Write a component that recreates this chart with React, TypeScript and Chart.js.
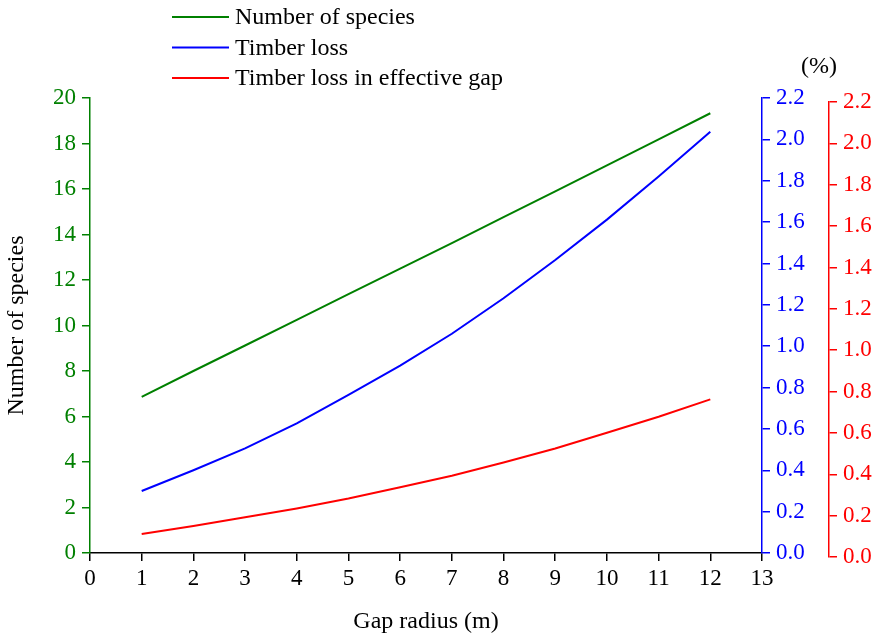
import React, { useEffect, useRef } from "react";
import { Chart, registerables } from "chart.js";

Chart.register(...registerables);

const gapRadius = [1, 2, 3, 4, 5, 6, 7, 8, 9, 10, 11, 12];
const numberOfSpecies = [6.86, 8.0, 9.12, 10.25, 11.38, 12.5, 13.62, 14.76, 15.9, 17.04, 18.18, 19.33];
const timberLoss = [0.3, 0.4, 0.506, 0.627, 0.764, 0.906, 1.06, 1.232, 1.417, 1.612, 1.82, 2.037];
const timberLossEffective = [0.111, 0.15, 0.192, 0.235, 0.283, 0.337, 0.393, 0.457, 0.525, 0.601, 0.678, 0.762];

const seriesLabels = ["Number of species", "Timber loss", "Timber loss in effective gap"];
const seriesColors = ["#008000", "#0000ff", "#ff0000"];

const FONT_FAMILY = "'Liberation Serif', 'Times New Roman', serif";
const TEXT_SIZE = 24;
const TICK_SIZE = 23;

const legendPlugin = {
  id: "customLegend",
  afterLayout(chart: any) {
    const s = chart.scales.y2;
    if (s) {
      s.top += 4;
      s.bottom += 4;
      s.configure();
    }
  },
  afterDraw(chart: any) {
    const ctx = chart.ctx;
    ctx.save();
    ctx.font = `${TEXT_SIZE}px ${FONT_FAMILY}`;
    ctx.textBaseline = "middle";
    ctx.textAlign = "left";
    chart.data.datasets.forEach((ds: any, i: number) => {
      const y = 17 + i * 30.5;
      ctx.strokeStyle = ds.borderColor;
      ctx.lineWidth = 2;
      ctx.beginPath();
      ctx.moveTo(172, y);
      ctx.lineTo(229, y);
      ctx.stroke();
      ctx.fillStyle = "#000";
      ctx.fillText(ds.label, 235, y + 1);
    });
    ctx.textAlign = "center";
    ctx.fillText("(%)", 819, 67);
    ctx.restore();
  },
};

export default function App() {
  const ref = useRef<HTMLCanvasElement | null>(null);

  useEffect(() => {
    if (!ref.current) return;
    const tickFont = { family: FONT_FAMILY, size: TICK_SIZE };
    const textFont = { family: FONT_FAMILY, size: TEXT_SIZE };
    const mk = (vals: number[]) => gapRadius.map((x, i) => ({ x, y: vals[i] }));
    const chart = new Chart(ref.current, {
      type: "line",
      data: {
        datasets: [
          {
            label: seriesLabels[0],
            data: mk(numberOfSpecies),
            borderColor: seriesColors[0],
            backgroundColor: seriesColors[0],
            borderWidth: 2,
            pointRadius: 0,
            yAxisID: "y",
          },
          {
            label: seriesLabels[1],
            data: mk(timberLoss),
            borderColor: seriesColors[1],
            backgroundColor: seriesColors[1],
            borderWidth: 2,
            pointRadius: 0,
            yAxisID: "y1",
          },
          {
            label: seriesLabels[2],
            data: mk(timberLossEffective),
            borderColor: seriesColors[2],
            backgroundColor: seriesColors[2],
            borderWidth: 2,
            pointRadius: 0,
            yAxisID: "y2",
          },
        ],
      },
      options: {
        responsive: false,
        animation: false,
        layout: { padding: { top: 98, left: 0, right: 0, bottom: 0 } },
        plugins: { legend: { display: false }, tooltip: { enabled: false } },
        scales: {
          x: {
            type: "linear",
            position: "bottom",
            min: 0,
            max: 13,
            ticks: { stepSize: 1, color: "#000", font: tickFont, padding: 4, maxRotation: 0 },
            grid: { display: true, drawOnChartArea: false, drawTicks: true, tickLength: 8, color: "#000", lineWidth: 1.5 },
            border: { display: true, color: "#000", width: 1.5 },
            title: { display: true, text: "Gap radius (m)", color: "#000", font: textFont, padding: { top: 0, bottom: 2 } },
            afterFit: (s: any) => { s.height = 85; },
          },
          y: {
            type: "linear",
            position: "left",
            min: 0,
            max: 20,
            ticks: { stepSize: 2, color: seriesColors[0], font: tickFont, padding: 6 },
            grid: { display: true, drawOnChartArea: false, drawTicks: true, tickLength: 8, color: seriesColors[0], lineWidth: 1.5 },
            border: { display: true, color: seriesColors[0], width: 1.5 },
            title: { display: true, text: "Number of species", color: "#000", font: textFont, padding: { top: 2, bottom: 0 } },
            afterFit: (s: any) => { s.width = 90; },
          },
          y1: {
            type: "linear",
            position: "right",
            min: 0,
            max: 2.2,
            ticks: { stepSize: 0.2, color: seriesColors[1], font: tickFont, padding: 6, callback: (v: any) => Number(v).toFixed(1) },
            grid: { display: true, drawOnChartArea: false, drawTicks: true, tickLength: 8, color: seriesColors[1], lineWidth: 1.5 },
            border: { display: true, color: seriesColors[1], width: 1.5 },
            afterFit: (s: any) => { s.width = 67; },
          },
          y2: {
            type: "linear",
            position: "right",
            min: 0,
            max: 2.2,
            ticks: { stepSize: 0.2, color: seriesColors[2], font: tickFont, padding: 6, callback: (v: any) => Number(v).toFixed(1) },
            grid: { display: true, drawOnChartArea: false, drawTicks: true, tickLength: 8, color: seriesColors[2], lineWidth: 1.5 },
            border: { display: true, color: seriesColors[2], width: 1.5 },
            afterFit: (s: any) => { s.width = 49; },
          },
        },
      } as any,
      plugins: [legendPlugin],
    });
    return () => chart.destroy();
  }, []);

  return (
    <div style={{ position: "absolute", left: 0, top: 0, width: 878, height: 638, background: "#fff" }}>
      <canvas ref={ref} width={878} height={638} style={{ display: "block", width: 878, height: 638 }} />
    </div>
  );
}
